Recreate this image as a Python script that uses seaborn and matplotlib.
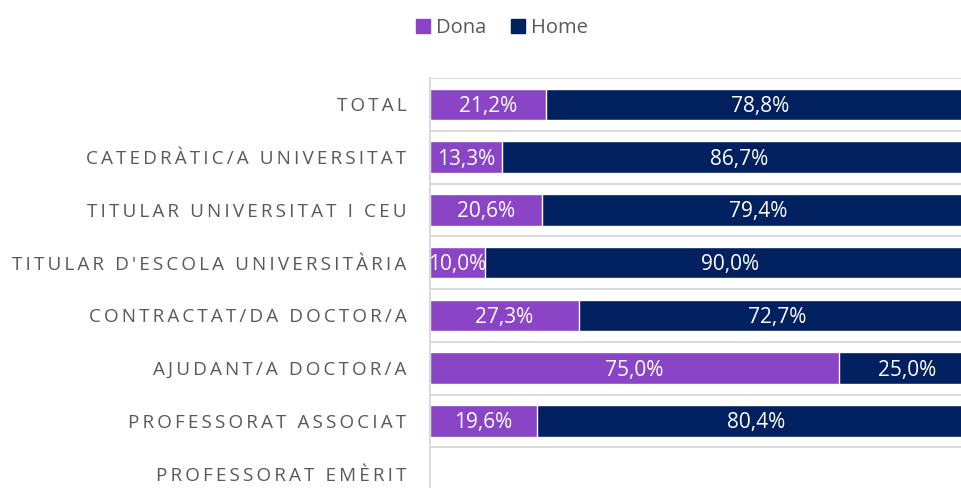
import numpy as np
import pandas as pd
import matplotlib
matplotlib.use("Agg")
import matplotlib.pyplot as plt
from matplotlib.patches import Patch
import seaborn as sns

sns.set_style("white")
plt.rcParams["font.family"] = ["Open Sans", "DejaVu Sans"]

categories = [
    "TOTAL",
    "CATEDRÀTIC/A UNIVERSITAT",
    "TITULAR UNIVERSITAT I CEU",
    "TITULAR D'ESCOLA UNIVERSITÀRIA",
    "CONTRACTAT/DA DOCTOR/A",
    "AJUDANT/A DOCTOR/A",
    "PROFESSORAT ASSOCIAT",
    "PROFESSORAT EMÈRIT",
]
dona = [21.2, 13.3, 20.6, 10.0, 27.3, 75.0, 19.6, np.nan]
home = [78.8, 86.7, 79.4, 90.0, 72.7, 25.0, 80.4, np.nan]

DONA_COLOR = "#8a45c6"
HOME_COLOR = "#00205f"
GRID_COLOR = "#d9d9d9"
TEXT_COLOR = "#595959"

df = pd.DataFrame({"categoria": categories, "Dona": dona, "Home": home})
df["total"] = df["Dona"] + df["Home"]


def spaced(label):
    # imitate the wide letter tracking of the original labels
    return "\u2009".join(label)


def pct(v):
    return f"{v:.1f}%".replace(".", ",")


fig = plt.figure(figsize=(9.62, 4.88), dpi=100)
ax = fig.add_axes([430 / 962, -12 / 488, 545 / 962, 422 / 488])

sns.barplot(data=df, x="total", y="categoria", order=categories, orient="h",
            color=HOME_COLOR, saturation=1, width=0.6, errorbar=None, ax=ax)
sns.barplot(data=df, x="Dona", y="categoria", order=categories, orient="h",
            color=DONA_COLOR, saturation=1, width=0.6, errorbar=None, ax=ax)

for i, row in df.iterrows():
    if pd.isna(row["Dona"]):
        continue
    ax.text(row["Dona"] / 2, i + 0.04, pct(row["Dona"]), ha="center",
            va="center", color="white", fontsize=15)
    ax.text(row["Dona"] + row["Home"] / 2, i + 0.04, pct(row["Home"]),
            ha="center", va="center", color="white", fontsize=15)

ax.set_xlim(0, 100)
ax.set_ylim(len(categories) - 0.5, -0.5)
ax.set_xlabel("")
ax.set_ylabel("")
ax.set_xticks([])
ax.set_yticks(range(len(categories)))
ax.set_yticklabels([spaced(c) for c in categories], fontsize=13.6,
                   color=TEXT_COLOR)
ax.tick_params(axis="y", length=0, pad=17)

ax.set_yticks(np.arange(-0.5, len(categories), 1), minor=True)
ax.tick_params(which="minor", length=0)
ax.grid(which="minor", axis="y", color=GRID_COLOR, lw=1.4)
ax.set_axisbelow(True)

for side in ["top", "right", "bottom"]:
    ax.spines[side].set_visible(False)
ax.spines["left"].set_color(GRID_COLOR)
ax.spines["left"].set_linewidth(1.4)

fig.legend(handles=[Patch(color=DONA_COLOR, label="Dona"),
                    Patch(color=HOME_COLOR, label="Home")],
           loc="center", bbox_to_anchor=(502 / 962, 1 - 28 / 488), ncol=2,
           frameon=False, handlelength=0.7, handleheight=0.7,
           handletextpad=0.3, columnspacing=1.2, fontsize=14.5,
           labelcolor=TEXT_COLOR)

fig.savefig("out.png", dpi=100)
plt.close(fig)
